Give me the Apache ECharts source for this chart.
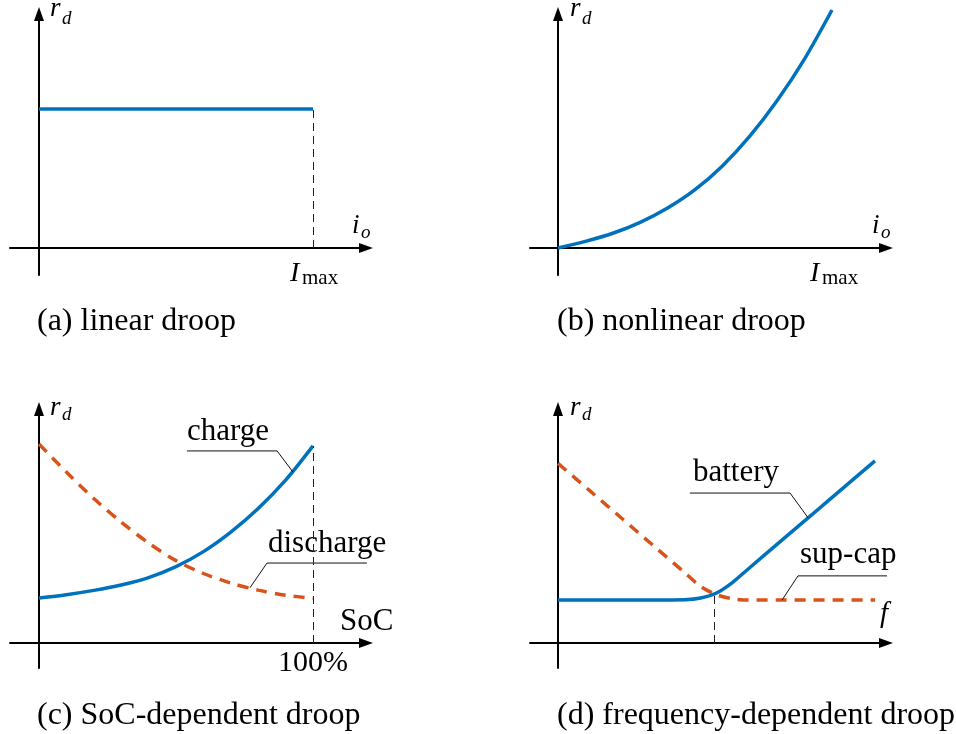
<!DOCTYPE html>
<html>
<head>
<meta charset="utf-8">
<script src="https://cdn.jsdelivr.net/npm/echarts@6/dist/echarts.min.js"></script>
<style>
html,body{margin:0;padding:0;background:#fff;}
#c{width:956px;height:734px;}
</style>
</head>
<body>
<div id="c"></div>
<script>
// ---------- DATA ----------
const xsUnit = [0, 0.1, 0.2, 0.3, 0.4, 0.5, 0.6, 0.7, 0.8, 0.9, 1.0];
const linearX = [0, 1];
const linearDroop = [0.584, 0.584];
const nonlinearDroop = [0, 0.028, 0.062, 0.108, 0.168, 0.245, 0.345, 0.470, 0.620, 0.795, 1.0];
const chargeDroop = [0.189, 0.203, 0.221, 0.244, 0.275, 0.321, 0.384, 0.466, 0.565, 0.684, 0.828];
const dischargeDroop = [0.836, 0.718, 0.607, 0.508, 0.420, 0.346, 0.292, 0.252, 0.222, 0.201, 0.188];
const freqX = [0, 0.1, 0.2, 0.3, 0.4, 0.45, 0.5, 0.55, 0.6, 0.7, 0.8, 0.9, 1.0];
const batteryDroop = [0.181, 0.181, 0.181, 0.181, 0.182, 0.189, 0.210, 0.254, 0.311, 0.425, 0.538, 0.652, 0.765];
const supcapDroop = [0.755, 0.640, 0.525, 0.410, 0.295, 0.238, 0.203, 0.186, 0.181, 0.181, 0.181, 0.181, 0.181];
const crossoverF = 0.492;
const crossoverR = 0.206;
// leader lines (data coordinates)
const chargeLeader = [[0.540, 0.807], [0.869, 0.807], [0.927, 0.718]];
const dischargeLeader = [[1.299, 0.336], [0.832, 0.336], [0.770, 0.232]];
const batteryLeader = [[0.416, 0.630], [0.732, 0.630], [0.789, 0.526]];
const supcapLeader = [[1.095, 0.282], [0.757, 0.282], [0.707, 0.181]];
// texts
const captions = ['(a) linear droop', '(b) nonlinear droop', '(c) SoC-dependent droop', '(d) frequency-dependent droop'];
const seriesNames = ['charge', 'discharge', 'battery', 'sup-cap'];
const xNames = ['i', 'SoC', 'f'];
const tickLabels = ['I', 'max', '100%'];

// ---------- CHART ----------
const BLUE = '#0072BD', RED = '#D95319';
const SERIF = '"Liberation Serif", "Times New Roman", serif';
const pair = (xs, ys) => xs.map((x, i) => [x, ys[i]]);

function xAx(gi, min, max) {
  return {type: 'value', gridIndex: gi, min: min, max: max,
    axisLine: {show: true, onZero: true, symbol: ['none', 'triangle'], symbolSize: [10, 14],
      lineStyle: {color: '#000', width: 2}},
    axisTick: {show: false}, axisLabel: {show: false}, splitLine: {show: false}};
}
const yAx = xAx;

function vline(x, y) {
  return {symbol: 'none', silent: true, animation: false, label: {show: false},
    lineStyle: {color: '#222', width: 1, type: [8, 5]},
    data: [[{coord: [x, 0]}, {coord: [x, y]}]]};
}
function curve(name, gi, data, color, dashed, smooth, ml) {
  const s = {type: 'line', name: name, xAxisIndex: gi, yAxisIndex: gi, data: data,
    symbol: 'none', showSymbol: false, smooth: smooth, clip: false,
    lineStyle: {color: color, width: 3.5, type: dashed ? [11, 8] : 'solid', cap: 'butt'}, z: 3};
  if (ml) s.markLine = ml;
  return s;
}
function leader(gi, data) {
  return {type: 'line', xAxisIndex: gi, yAxisIndex: gi, data: data, symbol: 'none', clip: false,
    silent: true, lineStyle: {color: '#111', width: 1}, z: 4};
}
function txt(x, y, s, size, italic) {
  return {type: 'text', x: x, y: y, silent: true,
    style: {text: s, font: (italic ? 'italic ' : '') + size + 'px ' + SERIF, fill: '#000',
      textAlign: 'left', textVerticalAlign: 'middle', align: 'left', verticalAlign: 'middle'}};
}

const yUnit = 238;
const option = {
  animation: false,
  backgroundColor: '#fff',
  grid: [
    {left: 10, top: 14, width: 356, height: 261},
    {left: 530, top: 14, width: 356, height: 261},
    {left: 10, top: 409, width: 356, height: 259},
    {left: 530, top: 409, width: 356, height: 259}
  ],
  xAxis: [
    xAx(0, -29 / 274, 327 / 274),
    xAx(1, -28 / 274, 328 / 274),
    xAx(2, -29 / 274, 327 / 274),
    xAx(3, -28 / 317, 328 / 317)
  ],
  yAxis: [
    yAx(0, -27 / yUnit, 234 / yUnit),
    yAx(1, -27 / yUnit, 234 / yUnit),
    yAx(2, -25 / yUnit, 234 / yUnit),
    yAx(3, -25 / yUnit, 234 / yUnit)
  ],
  series: [
    curve('linear', 0, pair(linearX, linearDroop), BLUE, false, false, vline(1, linearDroop[1])),
    curve('nonlinear', 1, pair(xsUnit, nonlinearDroop), BLUE, false, 0.3, vline(1, nonlinearDroop[10])),
    curve(seriesNames[1], 2, pair(xsUnit, dischargeDroop), RED, true, 0.3),
    curve(seriesNames[0], 2, pair(xsUnit, chargeDroop), BLUE, false, 0.3, vline(1, chargeDroop[10])),
    curve(seriesNames[3], 3, pair(freqX, supcapDroop), RED, true, 0.3),
    curve(seriesNames[2], 3, pair(freqX, batteryDroop), BLUE, false, 0.3, vline(crossoverF, crossoverR)),
    leader(2, chargeLeader),
    leader(2, dischargeLeader),
    leader(3, batteryLeader),
    leader(3, supcapLeader)
  ],
  graphic: {elements: [
    // panel a
    txt(50, 9, 'r', 27, true), txt(62, 19, 'd', 19, true),
    txt(352, 226, xNames[0], 27, true), txt(361, 233, 'o', 19, true),
    txt(290, 274, tickLabels[0], 28, true), txt(302, 278, tickLabels[1], 21, false),
    // panel b
    txt(570, 9, 'r', 27, true), txt(582, 19, 'd', 19, true),
    txt(872, 226, xNames[0], 27, true), txt(881, 233, 'o', 19, true),
    txt(810, 274, tickLabels[0], 28, true), txt(822, 278, tickLabels[1], 21, false),
    // panel c
    txt(50, 408, 'r', 27, true), txt(62, 415, 'd', 19, true),
    txt(187, 432, seriesNames[0], 31, false),
    txt(268, 544, seriesNames[1], 31, false),
    txt(340, 622, xNames[1], 31, false),
    txt(278, 663, tickLabels[2], 30, false),
    // panel d
    txt(570, 408, 'r', 27, true), txt(582, 415, 'd', 19, true),
    txt(693, 473, seriesNames[2], 31, false),
    txt(800, 555, seriesNames[3], 31, false),
    txt(880, 614, xNames[2], 29, true),
    // captions
    txt(37, 322, captions[0], 32, false),
    txt(557, 322, captions[1], 32, false),
    txt(37, 716, captions[2], 32, false),
    txt(557, 716, captions[3], 32, false)
  ]}
};
const chart = echarts.init(document.getElementById('c'), null, {renderer: 'canvas'});
chart.setOption(option);
</script>
</body>
</html>
